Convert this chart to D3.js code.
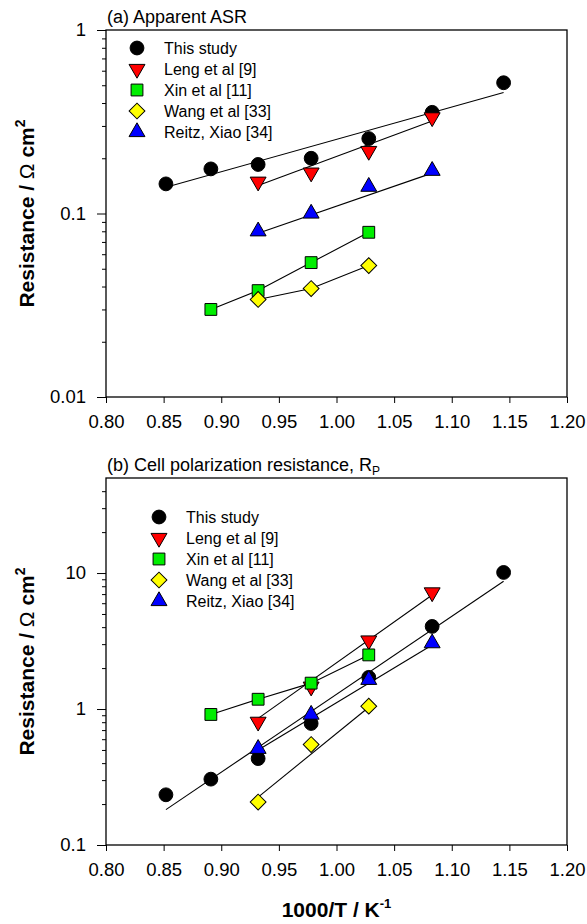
<!DOCTYPE html>
<html><head><meta charset="utf-8">
<script src="https://cdn.jsdelivr.net/npm/d3@7/dist/d3.min.js"></script>
<style>body{margin:0;background:#fff}svg{display:block}text{font-family:"Liberation Sans",Arial,sans-serif}</style>
</head><body><svg id="c" width="587" height="924"></svg>
<script>
// ---------- data ----------
const seriesNames = ["This study","Leng et al [9]","Xin et al [11]","Wang et al [33]","Reitz, Xiao [34]"];
const xThis = [0.852,0.891,0.932,0.978,1.028,1.083,1.145];
const xLeng = [0.932,0.978,1.028,1.083];
const xXin = [0.891,0.932,0.978,1.028];
const xWang = [0.932,0.978,1.028];
const xReitz = [0.932,0.978,1.028,1.083];
const xTicks = [0.80,0.85,0.90,0.95,1.00,1.05,1.10,1.15,1.20];

// (a) Apparent ASR
const aThis = [0.145,0.175,0.185,0.200,0.256,0.356,0.516];
const aLeng = [0.149,0.167,0.219,0.334];
const aXin = [0.030,0.038,0.054,0.079];
const aWang = [0.034,0.039,0.052];
const aReitz = [0.080,0.100,0.140,0.171];
const aThisFit = [[0.852,0.139],[1.145,0.457]];
const aLengFit = [[0.932,0.142],[1.083,0.319]];
const aReitzFit = [[0.932,0.078],[1.083,0.166]];
const aYTicks = [0.01,0.1,1];

// (b) Cell polarization resistance
const bThis = [0.234,0.305,0.432,0.783,1.71,4.05,10.1];
const bLeng = [0.805,1.46,3.19,7.2];
const bXin = [0.912,1.18,1.55,2.5];
const bWang = [0.207,0.548,1.05];
const bReitz = [0.51,0.91,1.64,3.05];
const bThisFit = [[0.852,0.182],[1.145,8.7]];
const bLengFit = [[0.932,0.853],[1.083,6.9]];
const bWangFit = [[0.932,0.225],[1.028,1.03]];
const bReitzFit = [[0.932,0.50],[1.083,2.96]];
const bYTicks = [0.1,1,10];

// ---------- drawing ----------
const svg = d3.select("#c");
const X0 = 106, X1 = 567;
const styles = [
  {sym:d3.symbolCircle, fill:"#000", size:150, rot:0},
  {sym:d3.symbolTriangle, fill:"#ff0000", size:110, rot:180},
  {sym:d3.symbolSquare, fill:"#00ee00", size:140, rot:0},
  {sym:d3.symbolSquare, fill:"#ffff00", size:125, rot:45},
  {sym:d3.symbolTriangle, fill:"#0000ff", size:110, rot:0}
];
function marker(g, i, x, y){
  const s = styles[i];
  let tr = `translate(${x},${y})`;
  if (s.rot) tr += ` rotate(${s.rot})`;
  g.append("path").attr("d", d3.symbol(s.sym, s.size)())
    .attr("transform", tr).attr("fill", s.fill)
    .attr("stroke", "#000").attr("stroke-width", 1);
}

function panel(cfg){
  const x = d3.scaleLinear().domain([0.8,1.2]).range([X0,X1]);
  const y = d3.scaleLog().domain(cfg.ydom).range([cfg.y1,cfg.y0]);
  const g = svg.append("g");
  const minors = [];
  for (let e = Math.floor(Math.log10(cfg.ydom[0])); e < Math.ceil(Math.log10(cfg.ydom[1])); e++){
    for (let k = 2; k <= 9; k++){ const v = k*Math.pow(10,e); if (v > cfg.ydom[0] && v < cfg.ydom[1]) minors.push(v); }
  }
  g.append("g").attr("transform",`translate(${X0},0)`)
    .call(d3.axisLeft(y).tickValues(minors).tickSize(4).tickFormat(""))
    .call(a=>a.select(".domain").remove());
  g.append("g").attr("transform",`translate(${X0},0)`)
    .call(d3.axisLeft(y).tickValues(cfg.yticks).tickSize(9).tickPadding(11).tickFormat(d=>String(d)))
    .call(a=>a.select(".domain").remove())
    .call(a=>a.selectAll("text").attr("font-size",18.5).attr("fill","#000"));
  g.append("g").attr("transform",`translate(0,${cfg.y1})`)
    .call(d3.axisBottom(x).tickValues(xTicks).tickSize(6).tickPadding(12).tickFormat(d3.format(".2f")))
    .call(a=>a.select(".domain").remove())
    .call(a=>a.selectAll("text").attr("font-size",18.5).attr("fill","#000"));
  g.selectAll(".tick line").attr("stroke","#000");
  g.append("rect").attr("x",X0).attr("y",cfg.y0).attr("width",X1-X0).attr("height",cfg.y1-cfg.y0)
    .attr("fill","none").attr("stroke","#000").attr("stroke-width",1.3);
  const t = g.append("text").attr("x",X0+1).attr("y",cfg.y0-7).attr("font-size",18).text(cfg.title);
  if (cfg.sub) t.append("tspan").attr("font-size",12).attr("dy",4).text(cfg.sub);
  const yt = g.append("text").attr("transform",`translate(34,${(cfg.y0+cfg.y1)/2}) rotate(-90)`)
    .attr("text-anchor","middle").attr("font-size",21).attr("font-weight","bold");
  yt.append("tspan").text("Resistance / ");
  yt.append("tspan").attr("font-weight","normal").text("Ω");
  yt.append("tspan").text(" cm");
  yt.append("tspan").attr("font-size",14).attr("dy",-9).text("2");
  const line = d3.line().x(d=>x(d[0])).y(d=>y(d[1]));
  cfg.lines.forEach(l=>{
    g.append("path").attr("d",line(l)).attr("fill","none").attr("stroke","#000").attr("stroke-width",1.1);
  });
  cfg.series.forEach((s,i)=>{
    s.x.forEach((xv,j)=>marker(g,i,x(xv),y(s.y[j])));
  });
  seriesNames.forEach((n,i)=>{
    const ly = cfg.legY + i*21;
    marker(g,i,cfg.legX,ly);
    g.append("text").attr("x",cfg.legX+27).attr("y",ly+6).attr("font-size",16).text(n);
  });
}

const zip = (xs,ys)=>xs.map((v,i)=>[v,ys[i]]);

panel({
  ydom:[0.01,1], y0:30, y1:397, yticks:aYTicks, title:"(a) Apparent ASR",
  legX:137, legY:48,
  series:[{x:xThis,y:aThis},{x:xLeng,y:aLeng},{x:xXin,y:aXin},{x:xWang,y:aWang},{x:xReitz,y:aReitz}],
  lines:[aThisFit, aLengFit, zip(xXin,aXin), zip(xWang,aWang), aReitzFit]
});
panel({
  ydom:[0.1,50], y0:478, y1:845, yticks:bYTicks, title:"(b) Cell polarization resistance, R", sub:"P",
  legX:159, legY:517,
  series:[{x:xThis,y:bThis},{x:xLeng,y:bLeng},{x:xXin,y:bXin},{x:xWang,y:bWang},{x:xReitz,y:bReitz}],
  lines:[bThisFit, bLengFit, zip(xXin,bXin), bWangFit, bReitzFit]
});

const xt = svg.append("text").attr("x",(X0+X1)/2).attr("y",917).attr("text-anchor","middle")
  .attr("font-size",21).attr("font-weight","bold");
xt.append("tspan").text("1000/T / K");
xt.append("tspan").attr("font-size",13).attr("dy",-9).text("-1");
</script></body></html>
